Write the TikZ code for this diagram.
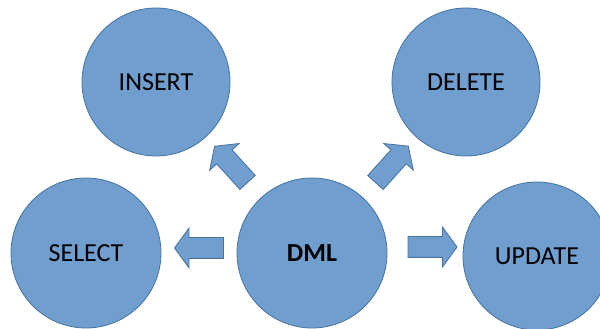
\documentclass[tikz,border=0pt]{standalone}
\usepackage{fontspec}
\setmainfont{Carlito}
\usetikzlibrary{shapes.arrows}
\definecolor{dmlblue}{RGB}{112,158,206}
\definecolor{dmledge}{RGB}{70,114,160}

\tikzset{
	opcircle/.style={circle,draw=dmledge,fill=dmlblue,line width=0.8pt,inner sep=0pt,
		minimum size=148pt,font=\fontsize{26}{30}\selectfont},
	blockarrow/.style={single arrow,draw=dmledge,fill=dmlblue,line width=0.8pt,
		inner xsep=0pt,inner ysep=10pt,minimum width=0pt,minimum height=49pt,
		single arrow head extend=9.5pt,single arrow tip angle=108,
		sloped,allow upside down}
}

\begin{document}
\begin{tikzpicture}[x=1pt,y=1pt]
	\useasboundingbox (0,0) rectangle (600,329);
	%circles
	\node[opcircle] (insert) at (156,247) {INSERT};
	\node[opcircle] (delete) at (466,247) {DELETE};
	\node[opcircle,minimum size=150pt] (select) at (86,76) {SELECT};
	\node[opcircle,minimum size=150pt] (dml) at (312,76) {\textbf{DML}};
	\node[opcircle] (update) at (537,73) {UPDATE};

	%arrows
	\path (dml) -- node[blockarrow] (toinsert) {} (insert);				%dml--insert
	\path (dml) -- node[blockarrow] (todelete) {} (delete);				%dml--delete
	\path ([yshift=5pt]dml.west) -- node[blockarrow,pos=0.45] (toselect) {} ([yshift=5pt]select.east);	%dml--select
	\path ([yshift=6pt]dml.east) -- node[blockarrow,pos=0.55] (toupdate) {} ([yshift=9pt]update.west);	%dml--update
\end{tikzpicture}
\end{document}
